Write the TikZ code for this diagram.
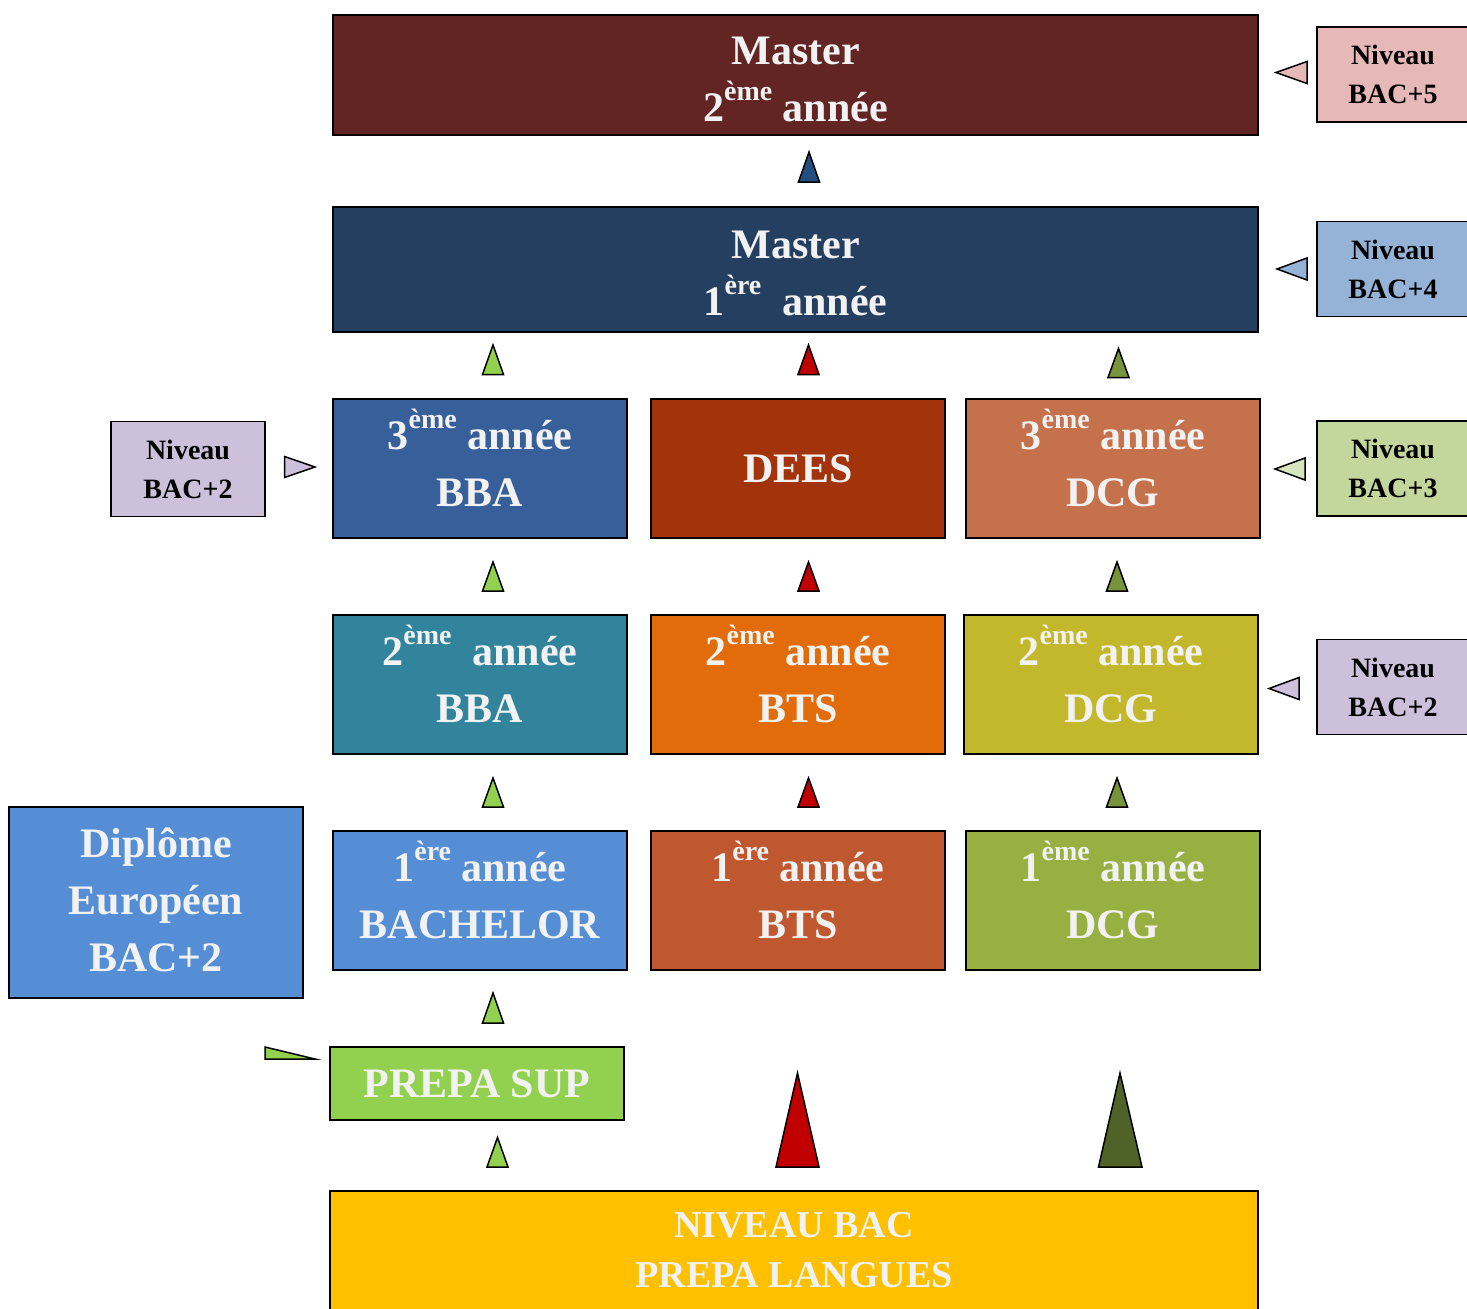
\documentclass[tikz,border=0pt]{standalone}
\usepackage{fontspec}
\setmainfont{Liberation Serif}

\definecolor{txtgray}{HTML}{F2F2F2}
\definecolor{mtwoc}{HTML}{632523}
\definecolor{monec}{HTML}{243F60}
\definecolor{bbathreec}{HTML}{375F9A}
\definecolor{deesc}{HTML}{A2330A}
\definecolor{dcgthreec}{HTML}{C5714B}
\definecolor{bbatwoc}{HTML}{31849B}
\definecolor{btstwoc}{HTML}{E36C0A}
\definecolor{dcgtwoc}{HTML}{C3B82C}
\definecolor{bachelorc}{HTML}{558ED5}
\definecolor{btsonec}{HTML}{C0582F}
\definecolor{dcgonec}{HTML}{98B041}
\definecolor{prepac}{HTML}{92D050}
\definecolor{bacc}{HTML}{FFC000}
\definecolor{pinkc}{HTML}{E6B9B8}
\definecolor{lblue}{HTML}{95B3D7}
\definecolor{lgreen}{HTML}{C3D69B}
\definecolor{pgreen}{HTML}{D7E4BD}
\definecolor{lpurple}{HTML}{CCC0DA}
\definecolor{tblue}{HTML}{254D7E}
\definecolor{tred}{HTML}{C00000}
\definecolor{tolive}{HTML}{77933C}
\definecolor{tdark}{HTML}{4F6228}

% raised ordinal, kept out of the line height
\newcommand{\sups}[1]{\smash{\raisebox{0.5em}{\fontsize{28}{28}\selectfont #1}}}
\newcommand{\upstrut}{\rule{0pt}{36pt}}
\newcommand{\dnstrut}[1]{\rule[-#1pt]{0pt}{#1pt}}

\begin{document}
\begin{tikzpicture}[x=1pt,y=-1pt,
  box/.style={draw=black, line width=1.5pt, inner sep=0pt, align=center,
    text=txtgray, font=\fontsize{42}{57}\selectfont\bfseries,
    minimum width=294, minimum height=139},
  lvl/.style={draw=black, line width=1.5pt, inner sep=0pt, align=center,
    text=black, font=\fontsize{28}{39}\selectfont\bfseries,
    minimum width=152, minimum height=95},
  tri/.style={draw=black, line width=1.5pt}]
\useasboundingbox (0,0) rectangle (1467,1309);
% main boxes
\node [box, fill=mtwoc, minimum width=925, minimum height=120] (mastertwo) at (795.5,75) {\upstrut Master\\2\sups{ème} année};
\node [box, fill=monec, minimum width=925, minimum height=125] (masterone) at (795.5,269.5) {\upstrut Master\\1\sups{ère}\ \ année};
\node [box, fill=bbathreec] (bbathree) at (480,468.5) {3\sups{ème} année\\BBA\dnstrut{10}};
\node [box, fill=deesc] (dees) at (798,468.5) {DEES};
\node [box, fill=dcgthreec] (dcgthree) at (1113,468.5) {3\sups{ème} année\\DCG\dnstrut{10}};
\node [box, fill=bbatwoc] (bbatwo) at (480,684.5) {2\sups{ème}\ \ année\\BBA\dnstrut{10}};
\node [box, fill=btstwoc] (btstwo) at (798,684.5) {2\sups{ème} année\\BTS\dnstrut{10}};
\node [box, fill=dcgtwoc] (dcgtwo) at (1111,684.5) {2\sups{ème} année\\DCG\dnstrut{10}};
\node [box, fill=bachelorc] (bachelor) at (480,900.5) {1\sups{ère} année\\BACHELOR\dnstrut{10}};
\node [box, fill=btsonec] (btsone) at (798,900.5) {1\sups{ère} année\\BTS\dnstrut{10}};
\node [box, fill=dcgonec] (dcgone) at (1113,900.5) {1\sups{ème} année\\DCG\dnstrut{10}};
\node [box, fill=bachelorc, minimum height=191] (diplome) at (156,902.5) {Diplôme\\Européen\\BAC+2\dnstrut{6}};
\node [box, fill=prepac, minimum height=73] (prepasup) at (477,1083.5) {PREPA SUP};
\node [box, fill=bacc, minimum width=928, minimum height=122, font=\fontsize{38}{50}\selectfont\bfseries] (niveaubac) at (794,1252) {NIVEAU BAC\\PREPA LANGUES\dnstrut{4}};
% level boxes
\node [lvl, fill=pinkc] (bacfive) at (1393,74.5) {Niveau\\BAC+5};
\node [lvl, fill=lblue] (bacfour) at (1393,269) {Niveau\\BAC+4};
\node [lvl, fill=lgreen] (bacthree) at (1393,468.5) {Niveau\\BAC+3};
\node [lvl, fill=lpurple] (bactwor) at (1393,687) {Niveau\\BAC+2};
\node [lvl, fill=lpurple, minimum width=154] (bactwol) at (188,469) {Niveau\\BAC+2};
% up triangles
\draw [tri, fill=tblue] (809,152) -- (819.5,182) -- (798.5,182) -- cycle;
\draw [tri, fill=prepac] (493,345) -- (503.5,374.5) -- (482.5,374.5) -- cycle;
\draw [tri, fill=tred] (808.5,345) -- (819,374.5) -- (798,374.5) -- cycle;
\draw [tri, fill=tolive] (1118.5,348.5) -- (1129,377.5) -- (1108,377.5) -- cycle;
\draw [tri, fill=prepac] (493,562) -- (503.5,591) -- (482.5,591) -- cycle;
\draw [tri, fill=tred] (808.5,562) -- (819,591) -- (798,591) -- cycle;
\draw [tri, fill=tolive] (1117,562) -- (1127.5,591) -- (1106.5,591) -- cycle;
\draw [tri, fill=prepac] (493,778) -- (503.5,807) -- (482.5,807) -- cycle;
\draw [tri, fill=tred] (808.5,778) -- (819,807) -- (798,807) -- cycle;
\draw [tri, fill=tolive] (1117,778) -- (1127.5,807) -- (1106.5,807) -- cycle;
\draw [tri, fill=prepac] (493,993) -- (503.5,1023) -- (482.5,1023) -- cycle;
\draw [tri, fill=prepac] (497.5,1137.5) -- (508,1167) -- (487,1167) -- cycle;
\draw [tri, fill=tred] (797.5,1073) -- (819,1167) -- (776,1167) -- cycle;
\draw [tri, fill=tdark] (1120,1073) -- (1142,1167) -- (1098.5,1167) -- cycle;
% side pointers
\draw [tri, fill=pinkc] (1276,72.5) -- (1307,61.5) -- (1307,83.5) -- cycle;
\draw [tri, fill=lblue] (1277,269) -- (1307,258) -- (1307,280) -- cycle;
\draw [tri, fill=pgreen] (1275,469) -- (1305,458) -- (1305,480) -- cycle;
\draw [tri, fill=lpurple] (1269,688.5) -- (1299,677.5) -- (1299,699.5) -- cycle;
\draw [tri, fill=lpurple] (315,467) -- (284.5,456.5) -- (284.5,477.5) -- cycle;
\draw [tri, fill=prepac] (265,1047) -- (315,1059) -- (265,1059) -- cycle;
\end{tikzpicture}
\end{document}
